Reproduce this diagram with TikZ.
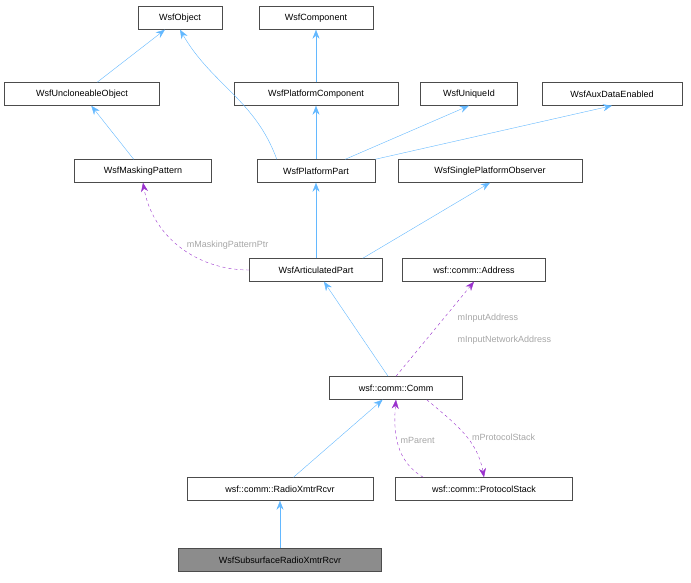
\documentclass[tikz,border=0pt]{standalone}
\usepackage{fontspec}
\setmainfont{Liberation Sans}
\usetikzlibrary{arrows.meta}
\definecolor{inh}{HTML}{63B8FF}
\definecolor{usg}{HTML}{9A32CD}
\tikzset{%
    cls/.style={%
        draw=black!70, fill=white, minimum height=23pt, inner sep=2pt, font=\fontsize{9}{10}\selectfont
    },
    inherit/.style={%
        draw=inh, -{Stealth[length=9pt,width=7pt]}
    },
    uses/.style={%
        draw=usg, dashed, -{Stealth[length=9pt,width=7pt]}
    },
    lbl/.style={%
        text=black!35, font=\fontsize{9}{10}\selectfont
    },
}
\begin{document}
\begin{tikzpicture}[x=1pt,y=-1pt]
    \useasboundingbox (0,0) rectangle (691,583);
    \node[cls, minimum width=84pt] (obj) at (180,18) {WsfObject};
    \node[cls, minimum width=114pt] (comp) at (316,18) {WsfComponent};
    \node[cls, minimum width=155pt] (uncl) at (82,94) {WsfUncloneableObject};
    \node[cls, minimum width=164pt] (pcomp) at (316,94) {WsfPlatformComponent};
    \node[cls, minimum width=97pt] (uid) at (469,94) {WsfUniqueId};
    \node[cls, minimum width=140pt] (aux) at (612,94) {WsfAuxDataEnabled};
    \node[cls, minimum width=137pt] (mask) at (143,171) {WsfMaskingPattern};
    \node[cls, minimum width=118pt] (ppart) at (316,171) {WsfPlatformPart};
    \node[cls, minimum width=184pt] (spo) at (490,171) {WsfSinglePlatformObserver};
    \node[cls, minimum width=133pt] (art) at (316,270) {WsfArticulatedPart};
    \node[cls, minimum width=143pt] (addr) at (474,270) {wsf::comm::Address};
    \node[cls, minimum width=133pt] (comm) at (396,388) {wsf::comm::Comm};
    \node[cls, minimum width=186pt] (radio) at (280,489) {wsf::comm::RadioXmtrRcvr};
    \node[cls, minimum width=177pt] (stack) at (484,489) {wsf::comm::ProtocolStack};
    \node[cls, minimum width=203pt, fill=black!45] (sub) at (280,560) {WsfSubsurfaceRadioXmtrRcvr};

    \draw[inherit] (uncl) -- (obj);
    \draw[inherit] (ppart.north west) ++(20,0) to[out=110,in=-60] (obj.south);
    \draw[inherit] (pcomp) -- (comp);
    \draw[inherit] (mask) -- (uncl);
    \draw[inherit] (ppart) -- (pcomp);
    \draw[inherit] (ppart.north east) ++(-30,0) -- (uid.south);
    \draw[inherit] (ppart.north east) -- (aux.south);
    \draw[inherit] (art) -- (ppart);
    \draw[inherit] (art.north east) ++(-20,0) -- (spo.south);
    \draw[inherit] (comm) -- (art);
    \draw[inherit] (radio) -- (comm);
    \draw[inherit] (sub) -- (radio);

    \draw[uses] (art.west) to[out=180,in=-80] node[lbl, pos=0.45, above right=-2pt] {mMaskingPatternPtr} (mask.south);
    \draw[uses] (comm.north) -- (addr.south);
    \node[lbl, anchor=west] (la1) at (454,318) {mInputAddress};
    \node[lbl, anchor=west] (la2) at (454,340) {mInputNetworkAddress};
    \draw[uses] (comm.south east) ++(-36,0) to[out=-40,in=100] node[lbl, pos=0.55, right=2pt] {mProtocolStack} (stack.north);
    \draw[uses] (stack.north west) ++(28,0) to[out=150,in=-95] node[lbl, pos=0.55, right=0pt] {mParent} (comm.south);
\end{tikzpicture}
\end{document}
